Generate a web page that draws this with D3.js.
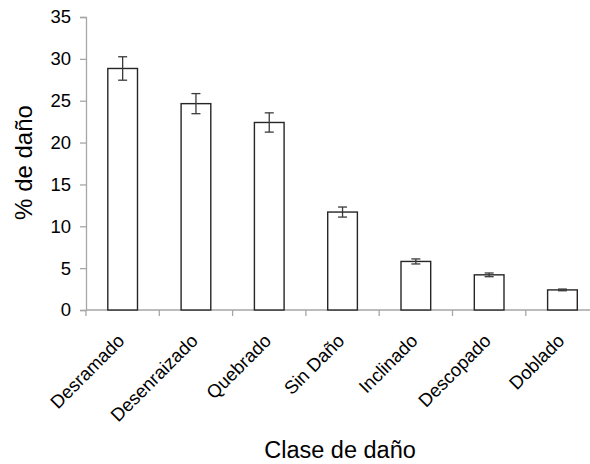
<!DOCTYPE html>
<html>
<head>
<meta charset="utf-8">
<script src="https://cdn.jsdelivr.net/npm/d3@7"></script>
<style>
body { margin: 0; background: #fff; }
text { font-family: "Liberation Sans", Arial, sans-serif; }
</style>
</head>
<body>
<div id="chart"></div>
<script>
var width = 590;
var height = 464;

// data
var clases = ["Desramado", "Desenraizado", "Quebrado", "Sin Daño", "Inclinado", "Descopado", "Doblado"];
var valores = [28.85, 24.65, 22.4, 11.7, 5.8, 4.2, 2.4];
var errores = [1.4, 1.2, 1.15, 0.6, 0.3, 0.22, 0.1];
var yTicks = [0, 5, 10, 15, 20, 25, 30, 35];

var plotLeft = 86, plotTop = 17, plotBottom = 310;
var bandWidth = 73.3;

var x = d3.scaleBand()
	.domain(clases)
	.range([plotLeft, plotLeft + bandWidth * clases.length])
	.paddingInner(0.595)
	.paddingOuter(0.2975);

var y = d3.scaleLinear()
	.domain([0, 35])
	.range([plotBottom, plotTop]);

var svg = d3.select("#chart")
	.append("svg")
	.attr("width", width)
	.attr("height", height);

// y axis
var yAxis = svg.append("g")
	.attr("transform", "translate(" + plotLeft + ",0)")
	.call(d3.axisLeft(y).tickValues(yTicks).tickSize(6).tickPadding(9));
yAxis.select(".domain").attr("stroke", "#a6a6a6").attr("stroke-width", 1.3);
yAxis.selectAll(".tick line").attr("stroke", "#a6a6a6").attr("stroke-width", 1.3);
yAxis.selectAll(".tick text")
	.attr("fill", "#000")
	.style("font-size", "18.5px");

// x axis: ticks on band borders
var xAxis = svg.append("g").attr("transform", "translate(0," + plotBottom + ")");
xAxis.append("line")
	.attr("x1", plotLeft).attr("x2", plotLeft + bandWidth * clases.length)
	.attr("stroke", "#a6a6a6").attr("stroke-width", 1.3);
xAxis.selectAll("line.tk")
	.data(d3.range(clases.length + 1))
	.enter()
	.append("line")
	.attr("class", "tk")
	.attr("x1", function(i) { return plotLeft + i * bandWidth; })
	.attr("x2", function(i) { return plotLeft + i * bandWidth; })
	.attr("y1", 0).attr("y2", 6)
	.attr("stroke", "#a6a6a6").attr("stroke-width", 1.3);

xAxis.selectAll("text.lab")
	.data(clases)
	.enter()
	.append("text")
	.attr("class", "lab")
	.attr("text-anchor", "end")
	.attr("transform", function(d) {
		return "translate(" + (x(d) + x.bandwidth() / 2 + 3) + ",32) rotate(-45)";
	})
	.style("font-size", "18.5px")
	.text(function(d) { return d; });

// bars
svg.selectAll("rect.bar")
	.data(clases)
	.enter()
	.append("rect")
	.attr("class", "bar")
	.attr("x", function(d) { return x(d); })
	.attr("y", function(d, i) { return y(valores[i]); })
	.attr("width", x.bandwidth())
	.attr("height", function(d, i) { return plotBottom - y(valores[i]); })
	.attr("fill", "#fff")
	.attr("stroke", "#262626")
	.attr("stroke-width", 1.4);

// error bars
var err = svg.selectAll("g.err")
	.data(clases)
	.enter()
	.append("g")
	.attr("class", "err")
	.attr("stroke", "#3a3a3a")
	.attr("stroke-width", 1.3);
err.append("line")
	.attr("x1", function(d) { return x(d) + x.bandwidth() / 2; })
	.attr("x2", function(d) { return x(d) + x.bandwidth() / 2; })
	.attr("y1", function(d, i) { return y(valores[i] + errores[i]); })
	.attr("y2", function(d, i) { return y(valores[i] - errores[i]); });
err.selectAll("line.cap")
	.data(function(d, i) { return [[d, valores[i] + errores[i]], [d, valores[i] - errores[i]]]; })
	.enter()
	.append("line")
	.attr("class", "cap")
	.attr("x1", function(p) { return x(p[0]) + x.bandwidth() / 2 - 4.5; })
	.attr("x2", function(p) { return x(p[0]) + x.bandwidth() / 2 + 4.5; })
	.attr("y1", function(p) { return y(p[1]); })
	.attr("y2", function(p) { return y(p[1]); });

// titles
svg.append("text")
	.attr("transform", "translate(32,162.5) rotate(-90)")
	.attr("text-anchor", "middle")
	.style("font-size", "24px")
	.text("% de daño");

svg.append("text")
	.attr("x", 340)
	.attr("y", 458)
	.attr("text-anchor", "middle")
	.style("font-size", "23.5px")
	.text("Clase de daño");
</script>
</body>
</html>
